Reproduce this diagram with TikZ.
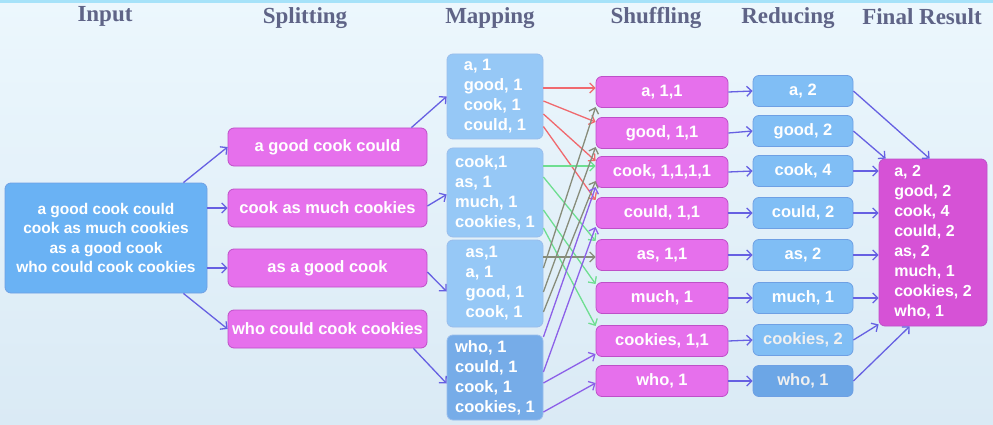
\documentclass[tikz,border=0pt]{standalone}
\usepackage{fontspec}
\setmainfont{Liberation Serif}
\setsansfont{Liberation Sans}
\usetikzlibrary{arrows.meta,calc}
\definecolor{bgtop}{RGB}{236,247,253}
\definecolor{bgbot}{RGB}{218,234,245}
\definecolor{headgray}{RGB}{95,100,135}
\definecolor{inblue}{RGB}{106,178,244}
\definecolor{mapblue}{RGB}{150,200,246}
\definecolor{mapdark}{RGB}{118,172,232}
\definecolor{redblue}{RGB}{128,190,245}
\definecolor{reddark}{RGB}{108,166,230}
\definecolor{blueline}{RGB}{110,160,228}
\definecolor{splitmag}{RGB}{230,112,236}
\definecolor{finmag}{RGB}{214,82,214}
\definecolor{magline}{RGB}{190,80,200}
\definecolor{arrowblue}{RGB}{102,96,226}
\definecolor{mred}{RGB}{240,105,110}
\definecolor{mgreen}{RGB}{110,222,145}
\definecolor{mgray}{RGB}{135,140,122}
\definecolor{mpurple}{RGB}{140,96,232}

\begin{document}
\begin{tikzpicture}[x=1pt, y=-1pt,
  header/.style  = {font=\rmfamily\bfseries\fontsize{23}{26}\selectfont, text=headgray, inner sep=0pt},
  box/.style     = {rectangle, rounded corners=6pt, draw, line width=0.8pt, text=white, inner sep=0pt, font=\sffamily\bfseries\fontsize{16.5}{20}\selectfont},
  inbox/.style   = {box, fill=inblue, draw=blueline, minimum width=202, minimum height=110, align=center, font=\sffamily\bfseries\fontsize{15.5}{19.6}\selectfont},
  splitbox/.style= {box, fill=splitmag, draw=magline, minimum width=199, minimum height=38},
  mapbox/.style  = {box, fill=mapblue, draw=blueline!70, minimum width=96, align=left},
  shufbox/.style = {box, fill=splitmag, draw=magline, minimum width=132, minimum height=31},
  redbox/.style  = {box, fill=redblue, draw=blueline, minimum width=100, minimum height=31},
  finbox/.style  = {box, fill=finmag, draw=magline, minimum width=108, minimum height=167, align=left, font=\sffamily\bfseries\fontsize{16}{20}\selectfont},
  link/.style    = {draw=arrowblue, line width=1.3pt, -{Straight Barb[length=5pt,width=10pt]}},
  mlink/.style   = {line width=1.3pt, -{Straight Barb[length=5pt,width=10pt]}},
  ]
  % background
  \shade[top color=bgtop, bottom color=bgbot] (0,0) rectangle (993,425);
  \fill[cyan!35] (0,0) rectangle (993,3);
  \useasboundingbox (0,0) rectangle (993,425);

  % column titles
  \node[header] (hinput) at (105,16) {Input};
  \node[header] (hsplit) at (305,18) {Splitting};
  \node[header] (hmap)   at (490,18) {Mapping};
  \node[header] (hshuf)  at (656,18) {Shuffling};
  \node[header] (hred)   at (788,18) {Reducing};
  \node[header] (hfin)   at (922,17) {Final Result};

  % input and splitting
  \node[inbox] (input) at (106,238) {a good cook could\\cook as much cookies\\as a good cook\\who could cook cookies};
  \node[splitbox] (sp1) at (327.5,147) {a good cook could};
  \node[splitbox] (sp2) at (327.5,208) {cook as much cookies};
  \node[splitbox] (sp3) at (327.5,268) {as a good cook};
  \node[splitbox] (sp4) at (327.5,329) {who could cook cookies};

  % mapping
  \node[mapbox, minimum height=85] (m1) at (495,96.5)  {a, 1\\good, 1\\cook, 1\\could, 1};
  \node[mapbox, minimum height=89] (m2) at (495,192.5) {cook,1\\as, 1\\much, 1\\cookies, 1};
  \node[mapbox, minimum height=87] (m3) at (495,283.5) {as,1\\a, 1\\good, 1\\cook, 1};
  \node[mapbox, minimum height=85, fill=mapdark] (m4) at (495,377.5) {who, 1\\could, 1\\cook, 1\\cookies, 1};

  % shuffling
  \node[shufbox] (s-a)       at (662,92)  {a, 1,1};
  \node[shufbox] (s-good)    at (662,133) {good, 1,1};
  \node[shufbox] (s-cook)    at (662,172) {cook, 1,1,1,1};
  \node[shufbox] (s-could)   at (662,213) {could, 1,1};
  \node[shufbox] (s-as)      at (662,255) {as, 1,1};
  \node[shufbox] (s-much)    at (662,298) {much, 1};
  \node[shufbox] (s-cookies) at (662,341) {cookies, 1,1};
  \node[shufbox] (s-who)     at (662,381) {who, 1};

  % reducing
  \node[redbox] (r-a)       at (803,91)  {a, 2};
  \node[redbox] (r-good)    at (803,131) {good, 2};
  \node[redbox] (r-cook)    at (803,171) {cook, 4};
  \node[redbox] (r-could)   at (803,213) {could, 2};
  \node[redbox] (r-as)      at (803,255) {as, 2};
  \node[redbox] (r-much)    at (803,298) {much, 1};
  \node[redbox, text=white!88!gray] (r-cookies) at (803,340) {cookies, 2};
  \node[redbox, fill=reddark, text=white!88!gray] (r-who) at (803,381) {who, 1};

  % final result
  \node[finbox] (fin) at (933,242.5) {a, 2\\good, 2\\cook, 4\\could, 2\\as, 2\\much, 1\\cookies, 2\\who, 1};

  % input -> splitting
  \draw[link] ($(input.north east)+(-24,0)$) -- (sp1.west);
  \draw[link] ($(input.east)+(0,-30)$) -- (sp2.west);
  \draw[link] ($(input.east)+(0,30)$) -- (sp3.west);
  \draw[link] ($(input.south east)+(-24,0)$) -- (sp4.west);

  % splitting -> mapping
  \draw[link] ($(sp1.north east)+(-16,0)$) -- (m1.west);
  \draw[link] ($(sp2.east)+(0,-2)$) -- ($(m2.west)+(0,2)$);
  \draw[link] ($(sp3.east)+(0,4)$) -- ($(m3.west)+(0,8)$);
  \draw[link] ($(sp4.south east)+(-14,0)$) -- ($(m4.west)+(0,6)$);

  % mapping -> shuffling
  \begin{scope}[mlink, draw=mred]
    \draw ($(m1.east)+(0,-8.5)$) -- ($(s-a.west)+(0,-4)$);
    \draw ($(m1.east)+(0,4.5)$)  -- ($(s-good.west)+(0,-11)$);
    \draw ($(m1.east)+(0,17.5)$) -- ($(s-cook.west)+(0,-11)$);
    \draw ($(m1.east)+(0,30)$)   -- ($(s-could.west)+(0,-13)$);
  \end{scope}
  \begin{scope}[mlink, draw=mgreen]
    \draw ($(m2.east)+(0,-26.5)$) -- ($(s-cook.west)+(0,-6)$);
    \draw ($(m2.east)+(0,-15.5)$) -- ($(s-as.west)+(0,-14)$);
    \draw ($(m2.east)+(0,17.5)$)  -- ($(s-much.west)+(0,-14)$);
    \draw ($(m2.east)+(0,35.5)$)  -- ($(s-cookies.west)+(0,-15)$);
  \end{scope}
  \begin{scope}[mlink, draw=mgray]
    \draw ($(m3.east)+(0,-26.5)$) -- ($(s-as.west)+(0,2)$);
    \draw ($(m3.east)+(0,-15.5)$) -- ($(s-a.west)+(0,15)$);
    \draw ($(m3.east)+(0,8.5)$)   -- ($(s-good.west)+(0,14)$);
    \draw ($(m3.east)+(0,28.5)$)  -- ($(s-cook.west)+(0,9)$);
  \end{scope}
  \begin{scope}[mlink, draw=mpurple]
    \draw ($(m4.east)+(0,34.5)$)  -- ($(s-who.west)+(0,2)$);
    \draw ($(m4.east)+(0,5.5)$)   -- ($(s-cookies.west)+(0,13)$);
    \draw ($(m4.east)+(0,-5.5)$)  -- ($(s-could.west)+(0,14)$);
    \draw ($(m4.east)+(0,-40.5)$) -- ($(s-cook.west)+(0,15)$);
  \end{scope}

  % shuffling -> reducing
  \foreach \w in {a,good,cook,could,as,much,cookies,who}
    \draw[link] (s-\w.east) -- (r-\w.west);

  % reducing -> final result
  \draw[link] (r-a.east) -- ($(fin.north west)+(51,0)$);
  \draw[link] (r-good.east) -- ($(fin.north west)+(7,0)$);
  \foreach \w in {cook,could,as,much}
    \draw[link] (r-\w.east) -- (r-\w.east -| fin.west);
  \draw[link] (r-cookies.east) -- ($(fin.south west)+(0,-2)$);
  \draw[link] (r-who.east) -- ($(fin.south west)+(31,0)$);
\end{tikzpicture}
\end{document}
